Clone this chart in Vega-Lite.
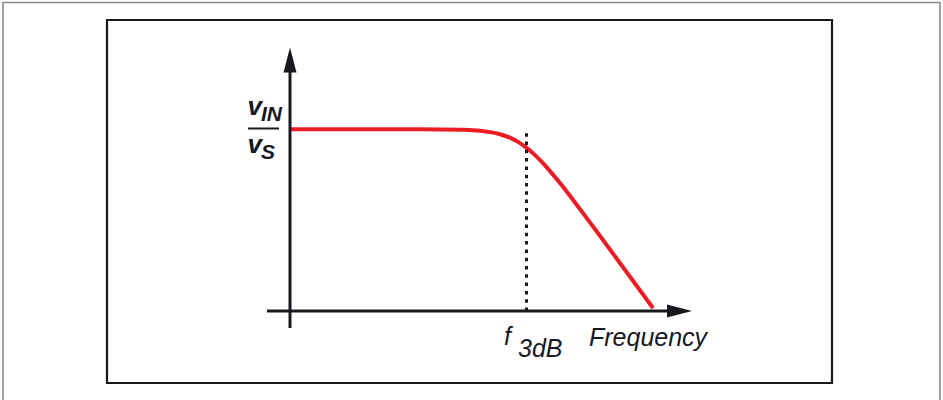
{
  "$schema": "https://vega.github.io/schema/vega-lite/v6.json",
  "width": 725,
  "height": 363,
  "autosize": {"type": "none"},
  "padding": {"left": 107, "top": 20, "right": 111, "bottom": 17},
  "background": "white",
  "config": {
    "view": {"stroke": "#18181f", "strokeWidth": 2.2},
    "font": "Liberation Sans"
  },
  "datasets": {
    "response": [
      {"f": 0.0, "gain": 1.817},
      {"f": 0.5, "gain": 1.817},
      {"f": 1.1, "gain": 1.817},
      {"f": 1.5, "gain": 1.816},
      {"f": 1.7, "gain": 1.8125},
      {"f": 1.9, "gain": 1.802},
      {"f": 2.0, "gain": 1.789},
      {"f": 2.1, "gain": 1.768},
      {"f": 2.2, "gain": 1.733},
      {"f": 2.28, "gain": 1.691},
      {"f": 2.36, "gain": 1.637},
      {"f": 2.44, "gain": 1.569},
      {"f": 2.55, "gain": 1.457},
      {"f": 2.7, "gain": 1.279},
      {"f": 2.9, "gain": 1.019},
      {"f": 3.1, "gain": 0.751},
      {"f": 3.63, "gain": 0.029}
    ]
  },
  "encoding": {
    "x": {"type": "quantitative", "scale": {"domain": [-1.83, 5.42], "nice": false, "zero": false}, "axis": null},
    "y": {"type": "quantitative", "scale": {"domain": [-0.72, 2.91], "nice": false, "zero": false}, "axis": null}
  },
  "layer": [
    {
      "data": {"values": [{"x1": -2.87, "x2": 6.5, "y1": 3.085, "y2": -0.93}]},
      "mark": {"type": "rect", "filled": false, "color": "#8a8a8a", "strokeWidth": 1.6, "clip": false},
      "encoding": {
        "x": {"field": "x1", "type": "quantitative"},
        "x2": {"field": "x2"},
        "y": {"field": "y1", "type": "quantitative"},
        "y2": {"field": "y2"}
      }
    },
    {
      "data": {"name": "response"},
      "mark": {"type": "line", "color": "#ec1c24", "strokeWidth": 4, "interpolate": "monotone"},
      "encoding": {
        "x": {"field": "f", "type": "quantitative"},
        "y": {"field": "gain", "type": "quantitative"}
      }
    },
    {
      "data": {"values": [{"f": 2.365, "lo": 0, "hi": 1.82}]},
      "mark": {"type": "rule", "color": "#18181f", "strokeWidth": 3, "strokeDash": [3.5, 4.8]},
      "encoding": {
        "x": {"field": "f", "type": "quantitative"},
        "y": {"field": "lo", "type": "quantitative"},
        "y2": {"field": "hi"}
      }
    },
    {
      "data": {"values": [
        {"axis": "frequency", "x1": -0.23, "x2": 3.9, "y1": 0, "y2": 0},
        {"axis": "gain", "x1": 0, "x2": 0, "y1": -0.17, "y2": 2.5}
      ]},
      "mark": {"type": "rule", "color": "#18181f", "strokeWidth": 3},
      "encoding": {
        "x": {"field": "x1", "type": "quantitative"},
        "x2": {"field": "x2"},
        "y": {"field": "y1", "type": "quantitative"},
        "y2": {"field": "y2"}
      }
    },
    {
      "data": {"values": [{"x": 0, "y": 2.635}]},
      "mark": {"type": "point", "filled": true, "opacity": 1, "strokeWidth": 0, "color": "#18181f", "shape": "M0,0L0.26,1L-0.26,1Z", "size": 2500},
      "encoding": {
        "x": {"field": "x", "type": "quantitative"},
        "y": {"field": "y", "type": "quantitative"}
      }
    },
    {
      "data": {"values": [{"x": 4.02, "y": 0}]},
      "mark": {"type": "point", "filled": true, "opacity": 1, "strokeWidth": 0, "color": "#18181f", "shape": "M0,0L-1,-0.26L-1,0.26Z", "size": 2500},
      "encoding": {
        "x": {"field": "x", "type": "quantitative"},
        "y": {"field": "y", "type": "quantitative"}
      }
    },
    {
      "data": {"values": [{"x1": -0.42, "x2": -0.11, "y": 1.825}]},
      "mark": {"type": "rule", "color": "#18181f", "strokeWidth": 2},
      "encoding": {
        "x": {"field": "x1", "type": "quantitative"},
        "x2": {"field": "x2"},
        "y": {"field": "y", "type": "quantitative"}
      }
    },
    {
      "data": {"values": [
        {"t": "v", "x": -0.425, "y": 1.96},
        {"t": "v", "x": -0.425, "y": 1.583}
      ]},
      "mark": {"type": "text", "align": "left", "baseline": "alphabetic", "fontSize": 26, "fontStyle": "italic", "fontWeight": "bold", "color": "#18181f"},
      "encoding": {
        "x": {"field": "x", "type": "quantitative"},
        "y": {"field": "y", "type": "quantitative"},
        "text": {"field": "t"}
      }
    },
    {
      "data": {"values": [
        {"t": "IN", "x": -0.29, "y": 1.903},
        {"t": "S", "x": -0.29, "y": 1.52}
      ]},
      "mark": {"type": "text", "align": "left", "baseline": "alphabetic", "fontSize": 21, "fontStyle": "italic", "fontWeight": "bold", "color": "#18181f"},
      "encoding": {
        "x": {"field": "x", "type": "quantitative"},
        "y": {"field": "y", "type": "quantitative"},
        "text": {"field": "t"}
      }
    },
    {
      "data": {"values": [
        {"t": "f", "x": 2.14, "y": -0.34},
        {"t": "Frequency", "x": 2.99, "y": -0.345}
      ]},
      "mark": {"type": "text", "align": "left", "baseline": "alphabetic", "fontSize": 25, "fontStyle": "italic", "color": "#18181f"},
      "encoding": {
        "x": {"field": "x", "type": "quantitative"},
        "y": {"field": "y", "type": "quantitative"},
        "text": {"field": "t"}
      }
    },
    {
      "data": {"values": [{"t": "3dB", "x": 2.28, "y": -0.46}]},
      "mark": {"type": "text", "align": "left", "baseline": "alphabetic", "fontSize": 25, "fontStyle": "italic", "color": "#18181f"},
      "encoding": {
        "x": {"field": "x", "type": "quantitative"},
        "y": {"field": "y", "type": "quantitative"},
        "text": {"field": "t"}
      }
    }
  ]
}
